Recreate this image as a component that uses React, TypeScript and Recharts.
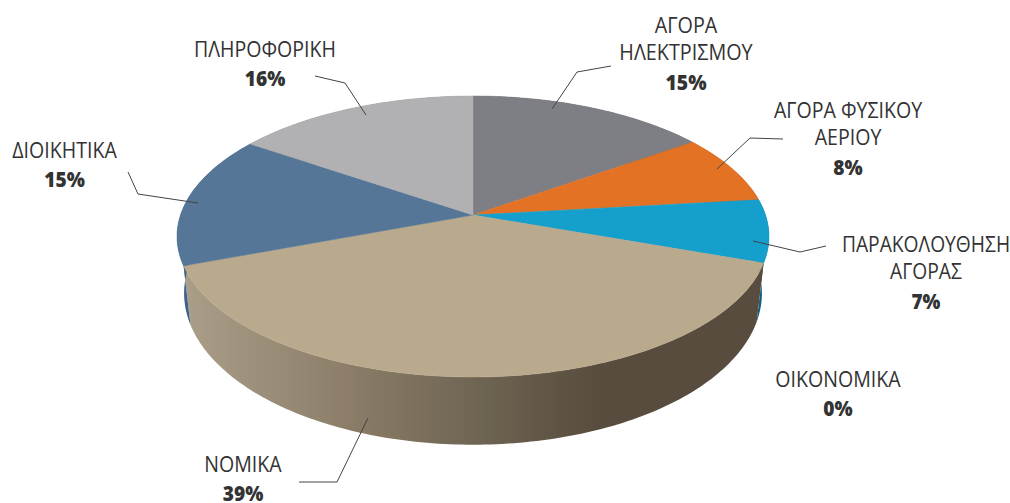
import { Pie, PieChart } from "recharts";

const categories = [
  "ΑΓΟΡΑ ΗΛΕΚΤΡΙΣΜΟΥ",
  "ΑΓΟΡΑ ΦΥΣΙΚΟΥ ΑΕΡΙΟΥ",
  "ΠΑΡΑΚΟΛΟΥΘΗΣΗ ΑΓΟΡΑΣ",
  "ΟΙΚΟΝΟΜΙΚΑ",
  "ΝΟΜΙΚΑ",
  "ΔΙΟΙΚΗΤΙΚΑ",
  "ΠΛΗΡΟΦΟΡΙΚΗ",
];
// unrounded shares as read from the slice edges; the printed labels are rounded
const shares = [15.2, 8.0, 7.2, 0, 38.9, 15.2, 15.5];
const percentLabels = ["15%", "8%", "7%", "0%", "39%", "15%", "16%"];
const faceColors = ["#7e7f84", "#e37225", "#149fcd", "#574c3d", "#b9a98d", "#557697", "#b1b1b3"];
const wallColors = ["#55565a", "#a04f18", "#0d5f80", "#574c3d", "url(#wallTan)", "#3d6189", "#7d7d80"];

const labelLines = [
  ["ΑΓΟΡΑ", "ΗΛΕΚΤΡΙΣΜΟΥ"],
  ["ΑΓΟΡΑ ΦΥΣΙΚΟΥ", "ΑΕΡΙΟΥ"],
  ["ΠΑΡΑΚΟΛΟΥΘΗΣΗ", "ΑΓΟΡΑΣ"],
  ["ΟΙΚΟΝΟΜΙΚΑ"],
  ["ΝΟΜΙΚΑ"],
  ["ΔΙΟΙΚΗΤΙΚΑ"],
  ["ΠΛΗΡΟΦΟΡΙΚΗ"],
];
// centre x and first baseline of each label block
const labelSpots = [
  [686, 33],
  [848, 118],
  [926, 252],
  [838, 387],
  [243, 472],
  [64.5, 158],
  [265, 57],
];
// sideways squeeze per label, the original face is a condensed sans
const labelSqueeze = [0.9, 0.89, 0.875, 0.89, 0.89, 0.89, 0.89];
const leaders = [
  "552,109 577,72 611,66",
  "717,169 750,138 783,139",
  "753,241 800,252 826,246",
  "",
  "368,418 337,482 299,482",
  "198,203 138,194 128,172",
  "366,115 345,83 315,76",
];

const chartData = categories.map((name, i) => ({ name, value: shares[i] }));

// perspective: the pie's circle seen from above, near edge bigger than far edge
const TILT = -0.153;
const TOP_FACE = { scaleX: 292.5, scaleY: 137.2, shiftY: 0 };
const BOTTOM_FACE = { scaleX: 285.5, scaleY: 148, shiftY: 55 };

type Face = typeof TOP_FACE;

function project(face: Face, cx: number, cy: number, angle: number): [number, number] {
  const rad = (angle * Math.PI) / 180;
  const u = Math.cos(rad);
  const v = -Math.sin(rad);
  const w = 1 + TILT * v;
  return [cx + (face.scaleX * u) / w, cy + face.shiftY + (face.scaleY * v) / w];
}

function arcPoints(face: Face, cx: number, cy: number, from: number, to: number) {
  const steps = Math.max(2, Math.ceil(Math.abs(to - from)));
  const pts: string[] = [];
  for (let i = 0; i <= steps; i++) {
    const [x, y] = project(face, cx, cy, from + ((to - from) * i) / steps);
    pts.push(`${x.toFixed(2)},${y.toFixed(2)}`);
  }
  return pts;
}

function TopSlice(props: any) {
  const { cx, cy, startAngle, endAngle, index } = props;
  if (startAngle === endAngle) return null;
  const d = `M${cx},${cy} L${arcPoints(TOP_FACE, cx, cy, startAngle, endAngle).join(" L")} Z`;
  return <path d={d} fill={faceColors[index]} stroke={faceColors[index]} strokeWidth={0.5} />;
}

function WallSlice(props: any) {
  const { cx, cy, startAngle, endAngle, index } = props;
  if (startAngle === endAngle) return null;
  const upper = arcPoints(TOP_FACE, cx, cy, startAngle, endAngle);
  const lower = arcPoints(BOTTOM_FACE, cx, cy, startAngle, endAngle).reverse();
  const d = `M${upper.join(" L")} L${lower.join(" L")} Z`;
  return <path d={d} fill={wallColors[index]} />;
}

function SliceLabel(props: any) {
  const { index } = props;
  const [x, y] = labelSpots[index];
  const lines = labelLines[index];
  return (
    <g>
      {leaders[index] && <polyline points={leaders[index]} fill="none" stroke="#444" strokeWidth={1} />}
      <text
        transform={`translate(${x} 0) scale(${labelSqueeze[index]} 1)`}
        textAnchor="middle"
        fontFamily="'Open Sans', sans-serif"
        fontSize={22}
        fill="#333"
      >
        {lines.map((line, i) => (
          <tspan key={line} x={0} y={y + i * 27.5}>
            {line}
          </tspan>
        ))}
        <tspan x={0} y={y + lines.length * 28.7} fontSize={21.5} fontWeight={800}>
          {percentLabels[index]}
        </tspan>
      </text>
    </g>
  );
}

export default function App() {
  return (
    <div style={{ position: "absolute", left: 0, top: 0, width: 1010, height: 503, background: "#fff" }}>
      <PieChart width={1010} height={503} margin={{ top: 0, right: 0, bottom: 0, left: 0 }}>
        <defs>
          <linearGradient id="wallTan" gradientUnits="userSpaceOnUse" x1="185" y1="0" x2="600" y2="0">
            <stop offset="0%" stopColor="#ab9e88" />
            <stop offset="40%" stopColor="#8b7d67" />
            <stop offset="70%" stopColor="#6f6553" />
            <stop offset="100%" stopColor="#574c3d" />
          </linearGradient>
        </defs>
        <Pie
          data={chartData}
          dataKey="value"
          cx={473}
          cy={215}
          outerRadius={292}
          startAngle={90}
          endAngle={-270}
          stroke="none"
          shape={WallSlice}
          isAnimationActive={false}
        />
        <Pie
          data={chartData}
          dataKey="value"
          cx={473}
          cy={215}
          outerRadius={292}
          startAngle={90}
          endAngle={-270}
          stroke="none"
          shape={TopSlice}
          label={SliceLabel}
          labelLine={false}
          isAnimationActive={false}
        />
      </PieChart>
    </div>
  );
}
